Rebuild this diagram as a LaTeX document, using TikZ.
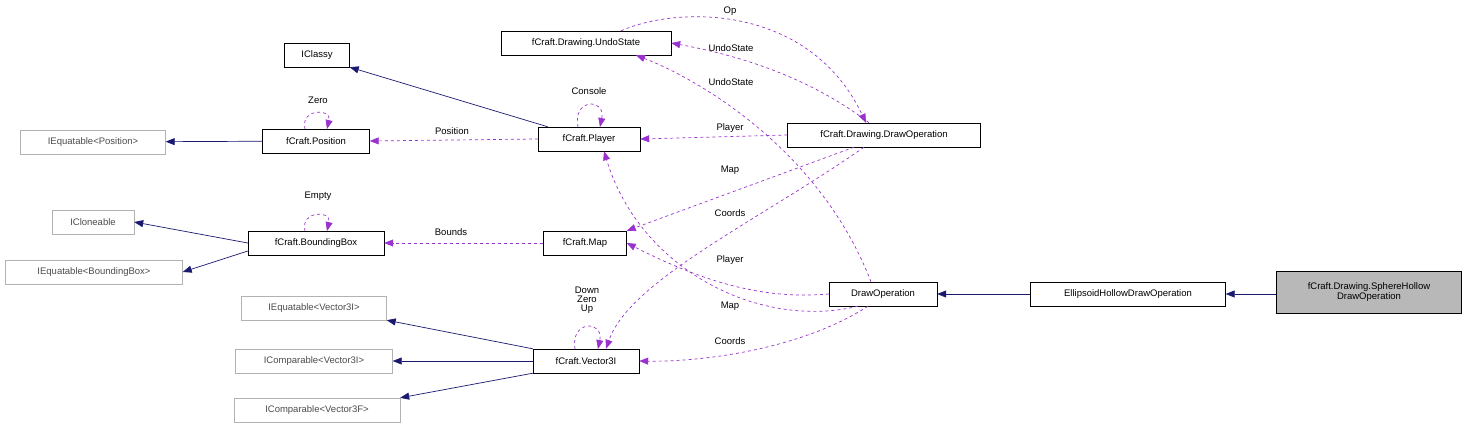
\documentclass[tikz,border=0pt]{standalone}
\usepackage{fontspec}
\setmainfont{Liberation Sans}
\usetikzlibrary{arrows.meta}
\definecolor{navy}{HTML}{191970}
\definecolor{purp}{HTML}{9A32CD}
\begin{document}
\begin{tikzpicture}[x=1pt,y=-1pt,font=\fontsize{9.5}{10}\selectfont,
 box/.style={draw=black,fill=white,inner sep=0pt,minimum height=24pt,align=center},
 gbox/.style={draw=gray!60,fill=white,inner sep=0pt,minimum height=24pt,text=black!70},
 inh/.style={draw=navy,-{Triangle[length=9pt,width=7pt]},line width=0.7pt},
 use/.style={draw=purp,dashed,-{Triangle[length=9pt,width=7pt]},line width=0.7pt,fill=none},
 lab/.style={inner sep=1pt,fill=none}]
\useasboundingbox (0,0) rectangle (1469,431);
\node[box,minimum width=65pt] (iclassy) at (317,55) {IClassy};
\node[box,minimum width=170pt] (undo) at (586,43) {fCraft.Drawing.UndoState};
\node[box,minimum width=102pt] (player) at (589,139) {fCraft.Player};
\node[box,minimum width=193pt] (ddo) at (884,135) {fCraft.Drawing.DrawOperation};
\node[gbox,minimum width=145pt] (ieqp) at (93,142) {IEquatable<Position>};
\node[box,minimum width=107pt] (pos) at (316,141) {fCraft.Position};
\node[gbox,minimum width=82pt] (iclone) at (93,222) {ICloneable};
\node[gbox,minimum width=177pt] (ieqb) at (94,272) {IEquatable<BoundingBox>};
\node[box,minimum width=136pt] (bb) at (316,243) {fCraft.BoundingBox};
\node[box,minimum width=83pt] (map) at (585,243) {fCraft.Map};
\node[box,minimum width=108pt] (do) at (883,294) {DrawOperation};
\node[box,minimum width=195pt] (ell) at (1128,294) {EllipsoidHollowDrawOperation};
\node[box,fill=black!28,minimum width=185pt,minimum height=42pt] (sph) at (1369,292) {fCraft.Drawing.SphereHollow\\DrawOperation};
\node[gbox,minimum width=145pt] (ieqv) at (314,308) {IEquatable<Vector3I>};
\node[gbox,minimum width=157pt] (icv) at (314,361) {IComparable<Vector3I>};
\node[gbox,minimum width=166pt] (icf) at (317,410) {IComparable<Vector3F>};
\node[box,minimum width=106pt] (v3) at (586,361) {fCraft.Vector3I};
% inheritance
\draw[inh] (player.north west) ++(10,0) -- (iclassy.south east);
\draw[inh] (pos) -- (ieqp);
\draw[inh] (bb.west) -- (iclone.east);
\draw[inh] (bb.west) ++(0,8) -- (ieqb.east);
\draw[inh] (v3.north west) -- (ieqv.south east);
\draw[inh] (v3) -- (icv);
\draw[inh] (v3.south west) -- (icf.north east);
\draw[inh] (ell) -- (do);
\draw[inh] (sph.west |- ell) -- (ell);
% self loops
\draw[use] (305,129) .. controls (300,108) and (332,108) .. (327,129);
\node[lab] (lz) at (318,100) {Zero};
\draw[use] (578,127) .. controls (572,98) and (606,98) .. (600,127);
\node[lab] (lc) at (589,91) {Console};
\draw[use] (305,231) .. controls (300,210) and (332,210) .. (327,231);
\node[lab] (le) at (318,196) {Empty};
\draw[use] (575,349) .. controls (570,320) and (604,320) .. (598,349);
\node[lab,align=center] (ld) at (587,300) {Down\\[-1pt]Zero\\[-1pt]Up};
% usage
\draw[use] (ddo.north) ++(-15,0) .. controls (800,70) and (720,52) .. (undo.east);
\node[lab] at (731,48) {UndoState};
\draw[use] (undo.north) ++(35,0) .. controls (680,5) and (810,5) .. ([xshift=-18pt]ddo.north);
\node[lab] at (730,11) {Op};
\draw[use] ([xshift=-12pt]do.north) .. controls (820,150) and (700,80) .. ([xshift=50pt]undo.south);
\node[lab] at (731,82) {UndoState};
\draw[use] (ddo.west) -- (player.east);
\node[lab] at (730,128) {Player};
\draw[use] (player.west) -- (pos.east);
\node[lab] at (452,131) {Position};
\draw[use] ([xshift=-30pt]ddo.south) -- (map.north east);
\node[lab] at (730,170) {Map};
\draw[use] (map.west) -- (bb.east);
\node[lab] at (451,232) {Bounds};
\draw[use] ([xshift=-20pt]ddo.south) .. controls (760,220) and (630,280) .. ([xshift=20pt]v3.north);
\node[lab] at (730,213) {Coords};
\draw[use] (do.west) .. controls (760,300) and (700,280) .. (map.east);
\node[lab] at (730,260) {Player};
\draw[use] ([xshift=-25pt]do.south) .. controls (760,330) and (640,270) .. ([xshift=15pt]player.south);
\node[lab] at (730,306) {Map};
\draw[use] ([xshift=-15pt]do.south) .. controls (800,350) and (700,362) .. (v3.east);
\node[lab] at (730,341) {Coords};
\end{tikzpicture}
\end{document}
